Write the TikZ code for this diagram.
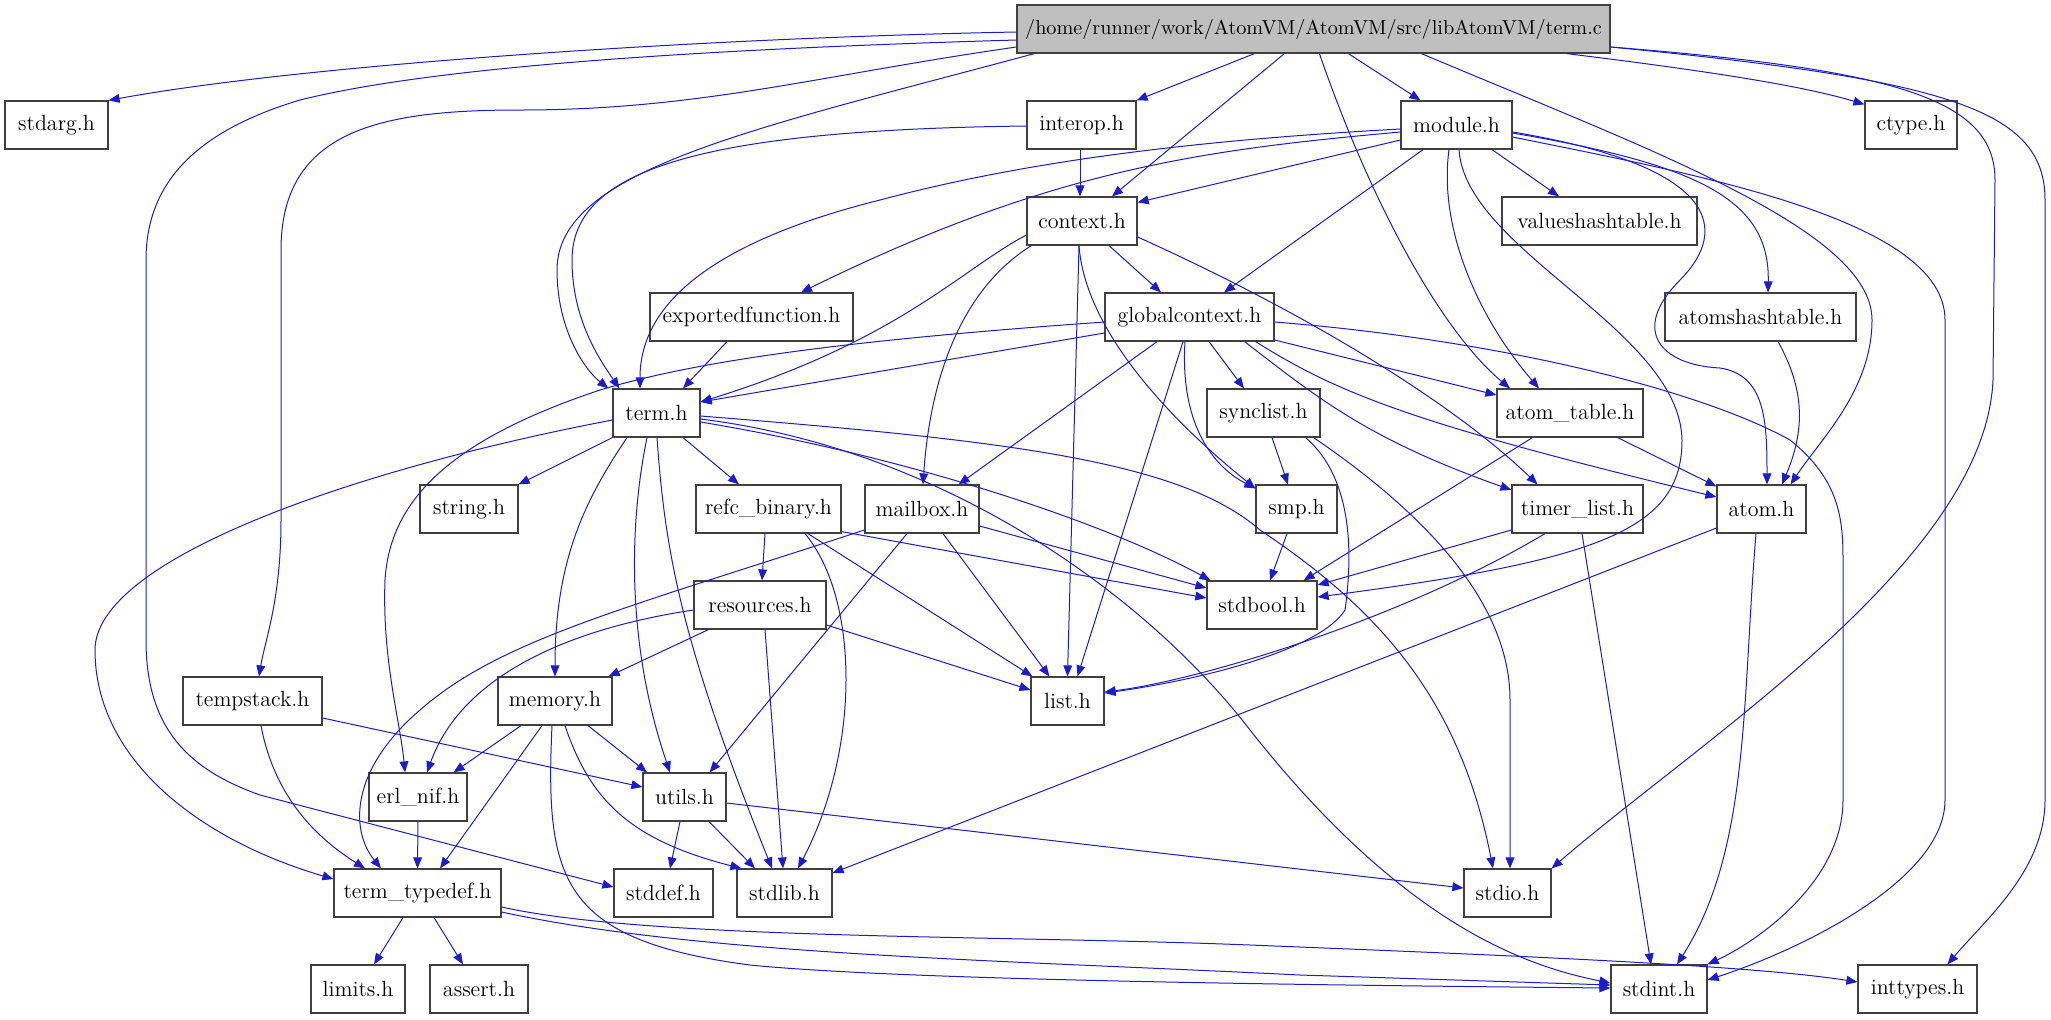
\documentclass[tikz,border=0pt]{standalone}
\usepackage{fontspec}
\usetikzlibrary{arrows.meta,calc}
\definecolor{edgeblue}{RGB}{28,28,204}
\definecolor{rootgray}{RGB}{191,191,191}
\begin{document}
\begin{tikzpicture}[x=0.5pt,y=-0.5pt,
  box/.style={draw=black!75,line width=0.6pt,fill=white,minimum height=24pt,inner sep=0pt,font=\fontsize{11}{13}\selectfont},
  dep/.style={draw=edgeblue,line width=0.5pt,-{Triangle[length=5.5pt,width=4.4pt]}}]
\useasboundingbox (0,0) rectangle (2051,1019);
% nodes
\node[box,fill=rootgray,minimum width=296.5pt,font=\fontsize{10.1}{12}\selectfont] (termc) at (1313.5,29) {/home/runner/work/AtomVM/AtomVM/src/libAtomVM/term.c};
\node[box,minimum width=51.5pt] (stdarg) at (56.5,125) {stdarg.h};
\node[box,minimum width=54.5pt] (interop) at (1081.5,125) {interop.h};
\node[box,minimum width=55.5pt] (module) at (1456.5,125) {module.h};
\node[box,minimum width=46pt] (ctype) at (1911,125) {ctype.h};
\node[box,minimum width=55pt] (context) at (1082,221) {context.h};
\node[box,minimum width=97.5pt] (valueshash) at (1599.5,221) {valueshashtable.h};
\node[box,minimum width=101.5pt] (exportedf) at (751.5,317) {exportedfunction.h};
\node[box,minimum width=84.5pt] (globalctx) at (1189.5,317) {globalcontext.h};
\node[box,minimum width=95.5pt] (atomshash) at (1760.5,317) {atomshashtable.h};
\node[box,minimum width=43.5pt] (termh) at (656.5,413) {term.h};
\node[box,minimum width=56.5pt] (synclist) at (1263.5,413) {synclist.h};
\node[box,minimum width=73pt] (atomtable) at (1570,413) {atom\_table.h};
\node[box,minimum width=49pt] (stringh) at (469,509) {string.h};
\node[box,minimum width=72.5pt] (refc) at (768.5,509) {refc\_binary.h};
\node[box,minimum width=57pt] (mailbox) at (922,509) {mailbox.h};
\node[box,minimum width=40.5pt] (smp) at (1296.5,509) {smp.h};
\node[box,minimum width=65.5pt] (timerlist) at (1577.5,509) {timer\_list.h};
\node[box,minimum width=44.5pt] (atom) at (1761.5,509) {atom.h};
\node[box,minimum width=66pt] (resources) at (760,605) {resources.h};
\node[box,minimum width=55pt] (stdbool) at (1262,605) {stdbool.h};
\node[box,minimum width=69.5pt] (tempstack) at (252.5,701) {tempstack.h};
\node[box,minimum width=57pt] (memory) at (555,701) {memory.h};
\node[box,minimum width=36.5pt] (list) at (1067.5,701) {list.h};
\node[box,minimum width=49pt] (erlnif) at (418,797) {erl\_nif.h};
\node[box,minimum width=41.5pt] (utils) at (684.5,797) {utils.h};
\node[box,minimum width=83.5pt] (termtypedef) at (417.5,893) {term\_typedef.h};
\node[box,minimum width=49.5pt] (stddef) at (663.5,893) {stddef.h};
\node[box,minimum width=47.5pt] (stdlib) at (784.5,893) {stdlib.h};
\node[box,minimum width=43.5pt] (stdio) at (1507.5,893) {stdio.h};
\node[box,minimum width=47pt] (limits) at (358,989) {limits.h};
\node[box,minimum width=49pt] (assert) at (479,989) {assert.h};
\node[box,minimum width=48pt] (stdint) at (1659,989) {stdint.h};
\node[box,minimum width=59.5pt] (inttypes) at (1917.5,989) {inttypes.h};
% term.c
\draw[dep] ($(termc.west)+(0,3)$) .. controls (700,38) and (300,65) .. (stdarg.north east);
\draw[dep] ($(termc.west)+(0,11)$) .. controls (600,52) and (400,75) .. (300,100) .. controls (200,130) and (146,180) .. (146,260) -- (146,640) .. controls (146,730) and (190,770) .. (260,795) -- ($(stddef.west)+(0,-6)$);
\draw[dep] ($(termc.west)+(0,18)$) .. controls (820,75) and (700,110) .. (520,110) .. controls (380,110) and (281,130) .. (281,250) -- (281,520) .. controls (281,600) and (265,640) .. ($(tempstack.north)+(6.5,0)$);
\draw[dep] ($(termc.south west)+(18,0)$) .. controls (750,130) and (557,170) .. (557,270) .. controls (557,330) and (585,370) .. ($(termh.north west)+(-4,0)$);
\draw[dep] ($(termc.south west)+(238,0)$) -- (interop.north east);
\draw[dep] ($(termc.south west)+(268,0)$) -- ($(context.north)+(30,0)$);
\draw[dep] ($(termc.south west)+(303,0)$) .. controls (1370,200) and (1440,330) .. ($(atomtable.north)+(-60,0)$);
\draw[dep] ($(termc.south west)+(332,0)$) -- ($(module.north)+(-36,0)$);
\draw[dep] ($(termc.south west)+(405,0)$) .. controls (1650,150) and (1872,230) .. (1872,320) .. controls (1872,390) and (1820,440) .. ($(atom.north east)+(-16,0)$);
\draw[dep] ($(termc.south east)+(-44,0)$) .. controls (1700,70) and (1800,85) .. ($(ctype.north west)+(0,4)$);
\draw[dep] ($(termc.east)+(0,18)$) .. controls (1900,70) and (1995,100) .. (1995,180) -- (1993,380) .. controls (1985,560) and (1700,740) .. (stdio.north east);
\draw[dep] ($(termc.east)+(0,18)$) .. controls (1950,80) and (2045,110) .. (2045,200) -- (2045,800) .. controls (2045,870) and (1985,920) .. ($(inttypes.north)+(30,0)$);
% term.h
\draw[dep] (termh.south west) -- (stringh.north east);
\draw[dep] ($(termh.south)+(26.5,0)$) -- ($(refc.north)+(-29.5,0)$);
\draw[dep] ($(termh.south)+(-29.5,0)$) .. controls (585,500) and (555,560) .. (memory.north);
\draw[dep] ($(termh.south)+(-9.5,0)$) .. controls (630,520) and (625,640) .. ($(utils.north)+(-14.5,0)$);
\draw[dep] ($(termh.south)+(0.5,0)$) .. controls (665,550) and (680,640) .. ($(stdlib.north)+(-12.5,0)$);
\draw[dep] ($(termh.west)+(0,7)$) .. controls (350,470) and (95,560) .. (95,650) .. controls (95,760) and (200,840) .. ($(termtypedef.west)+(0,-14)$);
\draw[dep] ($(termh.east)+(0,9)$) .. controls (900,455) and (1100,520) .. ($(stdbool.north west)+(4,0)$);
\draw[dep] ($(termh.east)+(0,3)$) .. controls (1000,440) and (1180,460) .. (1260,530) .. controls (1380,610) and (1460,700) .. ($(stdio.north)+(-14.5,0)$);
\draw[dep] ($(termh.east)+(0,6)$) .. controls (950,450) and (1150,600) .. (1250,730) .. controls (1400,920) and (1520,965) .. ($(stdint.west)+(0,-6)$);
% interop.h
\draw[dep] ($(interop.south)+(-1.5,0)$) -- ($(context.north)+(-2,0)$);
\draw[dep] ($(interop.west)+(0,1)$) .. controls (700,130) and (572,170) .. (572,260) .. controls (572,320) and (600,360) .. ($(termh.north west)+(7,0)$);
% context.h
\draw[dep] ($(context.south)+(27,0)$) -- ($(globalctx.north)+(-28.5,0)$);
\draw[dep] ($(context.west)+(0,14)$) .. controls (960,270) and (900,340) .. ($(termh.east)+(0,-11)$);
\draw[dep] ($(context.south west)+(5,0)$) .. controls (960,290) and (930,380) .. ($(mailbox.north)+(1,0)$);
\draw[dep] ($(context.south)+(-3,0)$) -- (list.north);
\draw[dep] ($(context.south)+(-3,0)$) .. controls (1085,330) and (1170,420) .. ($(smp.north west)+(0,4)$);
\draw[dep] ($(context.east)+(0,16)$) .. controls (1300,310) and (1450,400) .. ($(timerlist.north)+(-40,0)$);
% module.h
\draw[dep] ($(module.west)+(0,15)$) -- ($(context.north east)+(0,6)$);
\draw[dep] ($(module.south)+(-33.5,0)$) -- ($(globalctx.north)+(34.5,0)$);
\draw[dep] ($(module.south)+(35.5,0)$) -- ($(valueshash.north)+(-40.5,0)$);
\draw[dep] ($(module.east)+(0,8)$) .. controls (1700,165) and (1770,200) .. ($(atomshash.north)+(7.5,0)$);
\draw[dep] ($(module.east)+(0,7)$) .. controls (1740,170) and (1720,240) .. (1680,280) .. controls (1630,330) and (1660,365) .. (1720,368) .. controls (1765,375) and (1767,420) .. ($(atom.north)+(5.5,0)$);
\draw[dep] ($(module.east)+(0,12)$) .. controls (1700,175) and (1945,220) .. (1945,320) -- (1945,800) .. controls (1945,880) and (1800,950) .. ($(stdint.east)+(0,-9)$);
\draw[dep] ($(module.south)+(-7.5,0)$) .. controls (1438,230) and (1480,320) .. ($(atomtable.north)+(-31,0)$);
\draw[dep] ($(module.west)+(0,4)$) .. controls (1200,140) and (1030,160) .. (880,200) .. controls (720,240) and (640,300) .. ($(termh.north)+(-16.5,0)$);
\draw[dep] ($(module.west)+(0,7)$) .. controls (1200,150) and (1050,170) .. ($(exportedf.north)+(49.5,0)$);
\draw[dep] ($(module.south)+(2.5,0)$) .. controls (1465,250) and (1680,330) .. (1682,440) .. controls (1682,530) and (1600,560) .. ($(stdbool.east)+(0,-8)$);
% exportedfunction.h
\draw[dep] ($(exportedf.south)+(-24.5,0)$) -- ($(termh.north)+(26.5,0)$);
% globalcontext.h
\draw[dep] ($(globalctx.west)+(0,16)$) -- ($(termh.east)+(0,-11)$);
\draw[dep] ($(globalctx.west)+(0,5)$) .. controls (850,340) and (700,360) .. (600,390) .. controls (450,440) and (390,500) .. (385,580) .. controls (382,660) and (400,720) .. ($(erlnif.north)+(-13,0)$);
\draw[dep] ($(globalctx.south)+(-32.5,0)$) -- ($(mailbox.north east)+(-21,0)$);
\draw[dep] ($(globalctx.south)+(-6.5,0)$) -- ($(list.north)+(10,0)$);
\draw[dep] ($(globalctx.south)+(-4.5,0)$) .. controls (1180,420) and (1210,465) .. ($(smp.north west)+(0,4)$);
\draw[dep] ($(globalctx.south)+(19.5,0)$) -- ($(synclist.north)+(-19.5,0)$);
\draw[dep] ($(globalctx.south east)+(-30,0)$) .. controls (1320,400) and (1370,440) .. ($(timerlist.west)+(0,-19)$);
\draw[dep] ($(globalctx.south east)+(-19,0)$) .. controls (1340,395) and (1420,425) .. ($(atom.west)+(0,-12)$);
\draw[dep] ($(globalctx.east)+(0,23)$) -- ($(atomtable.west)+(0,-18)$);
\draw[dep] ($(globalctx.east)+(0,5)$) .. controls (1500,340) and (1700,390) .. (1790,440) .. controls (1840,480) and (1843,520) .. (1843,560) -- (1843,800) .. controls (1843,880) and (1760,940) .. (stdint.north east);
% atomshashtable.h
\draw[dep] ($(atomshash.south)+(17.5,0)$) .. controls (1805,390) and (1805,430) .. ($(atom.north)+(20.5,0)$);
% synclist.h
\draw[dep] ($(synclist.south)+(8.5,0)$) -- ($(smp.north)+(-8.5,0)$);
\draw[dep] ($(synclist.south east)+(-15,0)$) .. controls (1355,480) and (1352,560) .. (1345,610) .. controls (1320,650) and (1200,680) .. ($(list.east)+(0,-8)$);
\draw[dep] ($(synclist.south east)+(-7,0)$) .. controls (1420,510) and (1510,600) .. (1510,700) -- ($(stdio.north)+(2.5,0)$);
% atom_table.h
\draw[dep] ($(atomtable.south west)+(36,0)$) -- ($(stdbool.north east)+(-14,0)$);
\draw[dep] ($(atomtable.south east)+(-26,0)$) -- ($(atom.north west)+(0,2)$);
% refc_binary.h
\draw[dep] ($(refc.south)+(-3.5,0)$) -- ($(resources.north)+(2,0)$);
\draw[dep] ($(refc.south)+(36.5,0)$) .. controls (860,600) and (860,750) .. ($(stdlib.north)+(13.5,0)$);
\draw[dep] ($(refc.south)+(39.5,0)$) -- ($(list.north west)+(2,0)$);
\draw[dep] ($(refc.south east)+(0,-2)$) -- ($(stdbool.west)+(0,-7)$);
% mailbox.h
\draw[dep] ($(mailbox.west)+(0,21)$) .. controls (620,610) and (500,640) .. (420,710) .. controls (350,770) and (350,830) .. ($(termtypedef.north)+(-36.5,0)$);
\draw[dep] ($(mailbox.south)+(-15,0)$) -- ($(utils.north east)+(-17,0)$);
\draw[dep] ($(mailbox.south)+(21,0)$) -- ($(list.north west)+(19,0)$);
\draw[dep] ($(mailbox.east)+(0,17)$) -- ($(stdbool.west)+(0,-17)$);
% smp.h
\draw[dep] ($(smp.south)+(-9.5,0)$) -- ($(stdbool.north)+(8,0)$);
% timer_list.h
\draw[dep] ($(timerlist.west)+(0,21)$) -- ($(stdbool.east)+(0,-20)$);
\draw[dep] ($(timerlist.south)+(-32.5,0)$) .. controls (1400,620) and (1200,680) .. ($(list.east)+(0,-9)$);
\draw[dep] ($(timerlist.south)+(4.5,0)$) -- ($(stdint.north)+(-8,0)$);
% atom.h
\draw[dep] ($(atom.south)+(-5.5,0)$) .. controls (1742,700) and (1750,850) .. ($(stdint.north)+(18,0)$);
\draw[dep] ($(atom.west)+(0,19)$) -- ($(stdlib.east)+(0,-20)$);
% resources.h
\draw[dep] ($(resources.south west)+(15,0)$) -- ($(memory.north east)+(-4,0)$);
\draw[dep] ($(resources.west)+(0,5)$) .. controls (560,630) and (460,680) .. ($(erlnif.north)+(9,0)$);
\draw[dep] ($(resources.south)+(5,0)$) -- ($(stdlib.north)+(-1.5,0)$);
\draw[dep] ($(resources.east)+(0,20)$) -- ($(list.west)+(0,-11)$);
% tempstack.h
\draw[dep] ($(tempstack.east)+(0,17)$) -- ($(utils.west)+(0,-10)$);
\draw[dep] ($(tempstack.south)+(8.5,0)$) .. controls (275,800) and (320,840) .. ($(termtypedef.north)+(-52.5,0)$);
% memory.h
\draw[dep] ($(memory.south)+(-34,0)$) -- ($(erlnif.north east)+(-14,0)$);
\draw[dep] ($(memory.south)+(33,0)$) -- ($(utils.north)+(-37.5,0)$);
\draw[dep] ($(memory.south)+(-13,0)$) -- ($(termtypedef.north)+(22.5,0)$);
\draw[dep] ($(memory.south)+(10,0)$) .. controls (590,800) and (630,840) .. ($(stdlib.north west)+(5,0)$);
\draw[dep] ($(memory.south)+(-3,0)$) .. controls (545,880) and (560,940) .. (750,965) .. controls (900,980) and (1300,985) .. ($(stdint.west)+(0,-1)$);
% erl_nif.h
\draw[dep] (erlnif.south) -- (termtypedef.north);
% utils.h
\draw[dep] ($(utils.south)+(-4.5,0)$) -- ($(stddef.north)+(6.5,0)$);
\draw[dep] ($(utils.south)+(24.5,0)$) -- ($(stdlib.north)+(-29.5,0)$);
\draw[dep] ($(utils.east)+(0,6)$) -- ($(stdio.west)+(0,-5)$);
% term_typedef.h
\draw[dep] ($(termtypedef.south)+(-14.5,0)$) -- ($(limits.north)+(16,0)$);
\draw[dep] ($(termtypedef.south)+(16.5,0)$) -- ($(assert.north)+(-16,0)$);
\draw[dep] ($(termtypedef.east)+(0,14)$) .. controls (650,940) and (1000,935) .. (1250,945) .. controls (1500,955) and (1750,965) .. ($(inttypes.west)+(0,-7)$);
\draw[dep] ($(termtypedef.east)+(0,19)$) .. controls (700,955) and (1000,960) .. (1300,975) -- ($(stdint.west)+(0,-4)$);
\end{tikzpicture}
\end{document}
